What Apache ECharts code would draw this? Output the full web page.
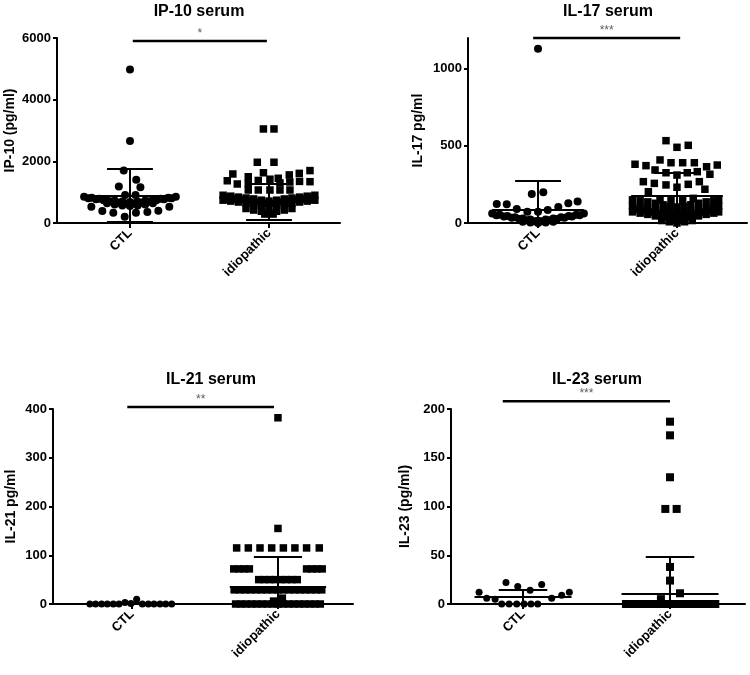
<!DOCTYPE html>
<html><head><meta charset="utf-8">
<script src="https://cdn.jsdelivr.net/npm/echarts@6/dist/echarts.min.js"></script>
<style>html,body{margin:0;padding:0;background:#fff}#c{width:750px;height:675px}</style>
</head><body><div id="c"></div>
<script>
// ---------- DATA ----------
const categories = ['CTL', 'idiopathic'];
const titles = ['IP-10 serum', 'IL-17 serum', 'IL-21 serum', 'IL-23 serum'];
const yNames = ['IP-10 (pg/ml)', 'IL-17 pg/ml', 'IL-21 pg/ml', 'IL-23 (pg/ml)'];
const yMax = [6000, 1200, 400, 200];
const yTickValues = [[0, 2000, 4000, 6000], [0, 500, 1000], [0, 100, 200, 300, 400], [0, 50, 100, 150, 200]];

// points: [jitter offset from group centre (category units), value]
const ip10Ctl = [
  [0, 4980], [0, 2660], [-0.045, 1700], [0.045, 1400], [-0.08, 1180], [0.075, 1160], [-0.035, 910], [0.04, 910],
  [-0.33, 850], [-0.275, 820], [-0.22, 790], [-0.165, 760], [-0.11, 730], [-0.055, 700], [0, 680],
  [0.055, 700], [0.11, 730], [0.165, 760], [0.22, 790], [0.275, 820], [0.33, 850],
  [-0.3, 800], [-0.245, 770], [-0.19, 740], [-0.135, 700], [-0.08, 660], [-0.025, 630],
  [0.025, 630], [0.08, 660], [0.135, 700], [0.19, 740], [0.245, 770], [0.3, 800],
  [-0.165, 640], [-0.11, 600], [-0.055, 570], [0, 550], [0.055, 570], [0.11, 600], [0.165, 640],
  [-0.278, 530], [-0.199, 390], [-0.12, 335], [-0.038, 205], [0.043, 335], [0.125, 355], [0.204, 400], [0.283, 530]
];
const ip10Idio = [
  [-0.04, 3050], [0.036, 3050], [-0.084, 1970], [0.036, 1970],
  [-0.3, 1370], [-0.26, 1590], [-0.228, 1265], [-0.149, 1500], [-0.04, 1630], [0.067, 1450], [0.146, 1560],
  [0.218, 1610], [0.295, 1700], [0.295, 1340],
  [-0.149, 1280], [-0.077, 1380], [0.007, 1420], [0.079, 1300], [0.15, 1330], [0.22, 1350],
  [-0.149, 1070], [-0.077, 1070], [0.007, 1070], [0.079, 1070], [0.151, 1070],
  [-0.33, 900], [-0.275, 870], [-0.22, 840], [-0.165, 810], [-0.11, 780], [-0.055, 740], [0, 710],
  [0.055, 740], [0.11, 780], [0.165, 810], [0.22, 840], [0.275, 870], [0.33, 900],
  [-0.3, 820], [-0.245, 790], [-0.19, 760], [-0.135, 720], [-0.08, 680], [-0.025, 640],
  [0.025, 640], [0.08, 680], [0.135, 720], [0.19, 760], [0.245, 790], [0.3, 820],
  [-0.33, 740], [-0.275, 710], [-0.22, 680], [-0.165, 640], [-0.11, 600], [-0.055, 560], [0, 530],
  [0.055, 560], [0.11, 600], [0.165, 640], [0.22, 680], [0.275, 710], [0.33, 740],
  [-0.165, 470], [-0.11, 420], [-0.055, 380], [0, 340], [0.055, 380], [0.11, 420], [0.165, 470],
  [-0.03, 290], [0.03, 290]
];
const il17Ctl = [
  [0, 1130], [-0.045, 188], [0.038, 199],
  [-0.297, 123], [-0.225, 121], [-0.153, 91], [-0.077, 73], [0, 73], [0.07, 84], [0.146, 104], [0.218, 128], [0.285, 140],
  [-0.33, 62], [-0.275, 54], [-0.22, 46], [-0.165, 38], [-0.11, 30], [-0.055, 22], [0, 15],
  [0.055, 22], [0.11, 30], [0.165, 38], [0.22, 46], [0.275, 54], [0.33, 62],
  [-0.3, 50], [-0.245, 42], [-0.19, 34], [-0.135, 26], [-0.08, 18], [-0.025, 12],
  [0.025, 12], [0.08, 18], [0.135, 26], [0.19, 34], [0.245, 42], [0.3, 50],
  [-0.11, 8], [-0.055, 3], [0, 0], [0.055, 3], [0.11, 8]
];
const il17Idio = [
  [-0.079, 534], [0, 491], [0.081, 504],
  [-0.302, 381], [-0.223, 372], [-0.122, 409], [-0.043, 391], [0.041, 391], [0.125, 391], [0.213, 365], [0.29, 376],
  [-0.158, 344], [-0.079, 326], [0, 311], [0.074, 326], [0.146, 333], [0.237, 316],
  [-0.242, 268], [-0.163, 257], [-0.079, 247], [0, 232], [0.081, 251], [0.161, 268], [0.201, 219], [-0.206, 203],
  [-0.122, 149], [-0.043, 149], [0.041, 149], [0.117, 160],
  [-0.32, 150], [-0.265, 144], [-0.21, 137], [-0.155, 128], [-0.1, 118], [-0.05, 108], [0, 104],
  [0.05, 108], [0.1, 118], [0.155, 128], [0.21, 137], [0.265, 144], [0.3, 150],
  [-0.32, 110], [-0.265, 102], [-0.21, 94], [-0.155, 86], [-0.1, 76], [-0.05, 66], [0, 60],
  [0.05, 66], [0.1, 76], [0.155, 86], [0.21, 94], [0.265, 102], [0.3, 110],
  [-0.29, 90], [-0.235, 82], [-0.18, 72], [-0.125, 62], [-0.075, 52], [-0.025, 44],
  [0.025, 44], [0.075, 52], [0.125, 62], [0.18, 72], [0.235, 82], [0.28, 90],
  [-0.32, 72], [-0.265, 64], [-0.21, 56], [-0.155, 46], [-0.1, 38], [-0.05, 30], [0, 25],
  [0.05, 30], [0.1, 38], [0.155, 46], [0.21, 56], [0.265, 64], [0.3, 72],
  [-0.11, 16], [-0.055, 8], [0, 0], [0.055, 8], [0.11, 16]
];
const il21Ctl = [
  [-0.288, 0], [-0.249, 0], [-0.208, 0], [-0.169, 0], [-0.128, 0], [-0.089, 0], [-0.048, 3], [-0.007, 1],
  [0.032, 10], [0.071, 0], [0.112, 0], [0.151, 0], [0.192, 0], [0.231, 0], [0.272, 0]
];
const il21Idio = [
  [0, 382], [0, 155],
  [-0.283, 115], [-0.203, 115], [-0.123, 115], [-0.043, 115], [0.037, 115], [0.116, 115], [0.196, 115], [0.283, 115],
  [-0.303, 72], [-0.267, 72], [-0.232, 72], [-0.196, 72], [0.196, 72], [0.232, 72], [0.267, 72], [0.303, 72],
  [-0.132, 50], [-0.094, 50], [-0.056, 50], [-0.019, 50], [0.019, 50], [0.056, 50], [0.094, 50], [0.132, 50],
  [-0.3, 29], [-0.263, 29], [-0.225, 29], [-0.188, 29], [-0.15, 29], [-0.113, 29], [-0.075, 29], [-0.038, 29], [0, 29],
  [0.038, 29], [0.075, 29], [0.113, 29], [0.15, 29], [0.188, 29], [0.225, 29], [0.263, 29], [0.3, 29],
  [-0.29, 0], [-0.254, 0], [-0.218, 0], [-0.181, 0], [-0.145, 0], [-0.109, 0], [-0.073, 0], [-0.036, 0], [0, 0],
  [0.036, 0], [0.073, 0], [0.109, 0], [0.145, 0], [0.181, 0], [0.218, 0], [0.254, 0], [0.29, 0],
  [0.03, 12], [-0.03, 6]
];
const il23Ctl = [
  [-0.116, 22], [-0.036, 18], [0.048, 14], [0.127, 20], [-0.299, 12], [-0.247, 6], [-0.19, 5],
  [0.195, 6], [0.263, 9], [0.315, 12],
  [-0.145, 0], [-0.095, 0], [-0.043, 0], [0.007, 0], [0.054, 0], [0.1, 0]
];
const il23Idio = [
  [0, 187], [0, 173], [0, 130], [-0.032, 97.5], [0.045, 97.5], [0, 38], [0, 24], [0.068, 11], [-0.062, 5],
  [-0.3, 0], [-0.262, 0], [-0.224, 0], [-0.186, 0], [-0.148, 0], [-0.11, 0], [-0.072, 0], [-0.034, 0], [0.004, 0],
  [0.042, 0], [0.08, 0], [0.118, 0], [0.156, 0], [0.194, 0], [0.232, 0], [0.27, 0], [0.308, 0]
];
const ctlPoints = [ip10Ctl, il17Ctl, il21Ctl, il23Ctl];
const idioPoints = [ip10Idio, il17Idio, il21Idio, il23Idio];

// mean and SD
const meanCtl = [900, 85, 1, 7.5];
const sdCtl = [850, 187, 2.5, 7.5];
const meanIdio = [680, 180, 35, 11];
const sdIdio = [590, 145, 62, 37.5];

// significance brackets
const sigFrom = [0.02, -0.035, -0.032, -0.138];
const sigTo = [0.985, 1.023, 0.973, 1.0];
const sigLevel = [5900, 1200, 404, 208];
const sigStars = ['*', '***', '**', '***'];

// ---------- LAYOUT / STYLE ----------
const FONT = 'Liberation Sans, Arial, sans-serif';
const grids = [
  { left: 57, top: 38, width: 283, height: 185 },
  { left: 468, top: 38, width: 279, height: 185 },
  { left: 53, top: 409, width: 300, height: 195 },
  { left: 451, top: 409, width: 294, height: 195 }
];
const xRange = [[-0.525, 1.511], [-0.504, 1.504], [-0.541, 1.514], [-0.49, 1.51]];
const titlePos = [[199, 4], [608, 4], [211, 372], [597, 372]];
const nameGaps = [40, 43, 35, 39];
const dotSize = [8, 8, 7, 7];
const squareSize = [7.5, 7.5, 7.5, 8];
const MEAN_HALF = 0.33, CAP_HALF = 0.165;

function statLines(g, mean, sd) {
  const hi = mean + sd, lo = mean - sd;
  const L = [
    [{ coord: [g - MEAN_HALF, mean] }, { coord: [g + MEAN_HALF, mean] }],
    [{ coord: [g, Math.max(lo, 0)] }, { coord: [g, hi] }],
    [{ coord: [g - CAP_HALF, hi] }, { coord: [g + CAP_HALF, hi] }]
  ];
  if (lo > 0) L.push([{ coord: [g - CAP_HALF, lo] }, { coord: [g + CAP_HALF, lo] }]);
  return L;
}

const option = { animation: false, backgroundColor: '#fff', title: [], grid: [], xAxis: [], yAxis: [], series: [] };

for (let i = 0; i < 4; i++) {
  option.title.push({
    text: titles[i], left: titlePos[i][0], top: titlePos[i][1], textAlign: 'center', padding: 0,
    textStyle: { fontFamily: FONT, fontSize: 16, fontWeight: 'bold', color: '#000' }
  });
  option.grid.push(grids[i]);
  option.xAxis.push({
    gridIndex: i, type: 'value', min: xRange[i][0], max: xRange[i][1],
    axisLine: { show: true, onZero: false, lineStyle: { color: '#000', width: 2 } },
    splitLine: { show: false },
    axisTick: { show: true, customValues: [0, 1], length: 5, lineStyle: { color: '#000', width: 2 } },
    axisLabel: {
      customValues: [0, 1], formatter: v => categories[Math.round(v)], rotate: 45, margin: 8,
      fontFamily: FONT, fontSize: 13, fontWeight: 'bold', color: '#000'
    }
  });
  option.yAxis.push({
    gridIndex: i, type: 'value', min: 0, max: yMax[i],
    name: yNames[i], nameLocation: 'middle', nameGap: nameGaps[i],
    nameTextStyle: { fontFamily: FONT, fontSize: 14, fontWeight: 'bold', color: '#000' },
    axisLine: { show: true, onZero: false, lineStyle: { color: '#000', width: 2 } },
    splitLine: { show: false },
    axisTick: { show: true, customValues: yTickValues[i], length: 4, lineStyle: { color: '#000', width: 2 } },
    axisLabel: {
      customValues: yTickValues[i], margin: 6, formatter: v => String(v),
      fontFamily: FONT, fontSize: 13, fontWeight: 'bold', color: '#000'
    }
  });
  const mk = (lines) => ({
    silent: true, symbol: ['none', 'none'], label: { show: false },
    lineStyle: { color: '#000', width: 2, type: 'solid' }, emphasis: { disabled: true }, data: lines
  });
  option.series.push({
    type: 'scatter', xAxisIndex: i, yAxisIndex: i, clip: false, symbol: 'circle', symbolSize: dotSize[i],
    itemStyle: { color: '#000', opacity: 1 }, silent: true,
    data: ctlPoints[i].map(p => [0 + p[0], p[1]]),
    markLine: mk(statLines(0, meanCtl[i], sdCtl[i]))
  });
  option.series.push({
    type: 'scatter', xAxisIndex: i, yAxisIndex: i, clip: false, symbol: 'rect', symbolSize: squareSize[i],
    itemStyle: { color: '#000', opacity: 1 }, silent: true,
    data: idioPoints[i].map(p => [1 + p[0], p[1]]),
    markLine: mk(statLines(1, meanIdio[i], sdIdio[i]))
  });
  option.series.push({
    type: 'line', xAxisIndex: i, yAxisIndex: i, clip: false, showSymbol: false, symbol: 'none', silent: true,
    lineStyle: { color: '#000', width: 2.5 },
    data: [[sigFrom[i], sigLevel[i]], [sigTo[i], sigLevel[i]]]
  });
  option.series.push({
    type: 'scatter', xAxisIndex: i, yAxisIndex: i, clip: false, symbol: 'circle', symbolSize: 1, silent: true,
    itemStyle: { color: 'rgba(0,0,0,0)' },
    label: { show: true, position: 'top', distance: 1, formatter: sigStars[i], fontFamily: FONT, fontSize: 12, color: '#333' },
    data: [[(sigFrom[i] + sigTo[i]) / 2, sigLevel[i]]]
  });
}

const chart = echarts.init(document.getElementById('c'), null, { renderer: 'canvas' });
chart.setOption(option);
</script></body></html>
